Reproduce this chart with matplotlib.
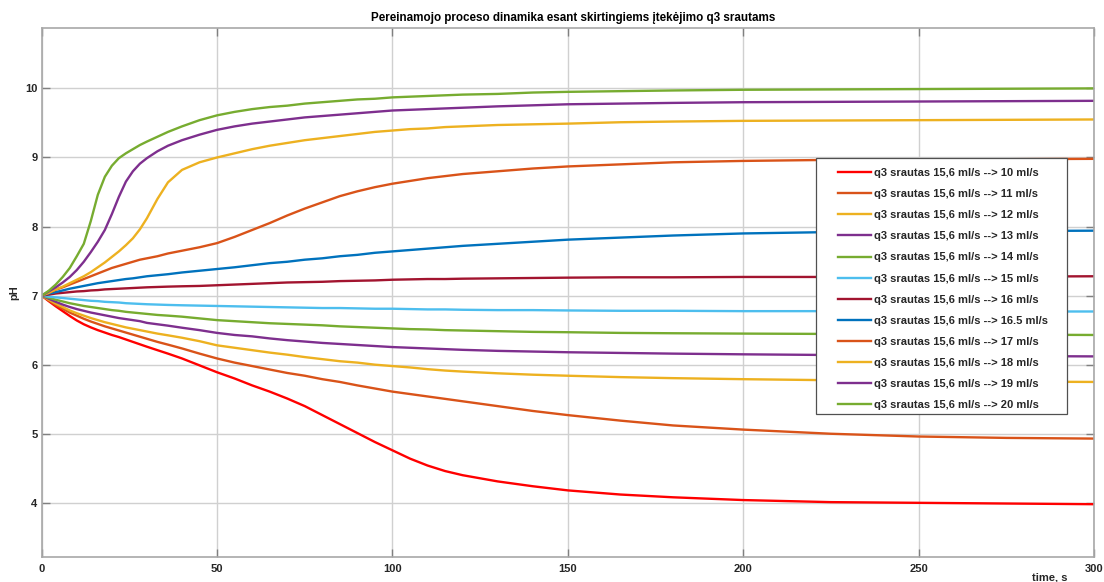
import matplotlib
matplotlib.use("Agg")
import matplotlib.pyplot as plt
from matplotlib.patches import Rectangle

plt.rcParams['font.family'] = ['Liberation Sans', 'DejaVu Sans']

# time points, s
t = [0, 2, 4, 6, 8, 10, 12, 14, 16, 18, 20, 22, 24, 26, 28, 30, 33, 36, 40, 45,
     50, 55, 60, 65, 70, 75, 80, 85, 90, 95, 100, 105, 110, 115, 120, 130, 140, 150,
     165, 180, 200, 225, 250, 275, 300]

# pH responses
ph_10 = [7.00, 6.92, 6.845, 6.775, 6.705, 6.64, 6.585, 6.54, 6.50, 6.465, 6.43, 6.40, 6.365,
         6.33, 6.295, 6.26, 6.21, 6.16, 6.09, 5.99, 5.89, 5.80, 5.70, 5.61, 5.51, 5.40, 5.27,
         5.14, 5.01, 4.88, 4.76, 4.64, 4.54, 4.46, 4.40, 4.31, 4.24, 4.18, 4.12, 4.08, 4.04,
         4.01, 4.00, 3.99, 3.98]
ph_11 = [7.00, 6.93, 6.865, 6.81, 6.755, 6.71, 6.665, 6.625, 6.59, 6.555, 6.525, 6.495, 6.465,
         6.435, 6.405, 6.375, 6.33, 6.29, 6.235, 6.16, 6.09, 6.03, 5.98, 5.93, 5.88, 5.84, 5.79,
         5.75, 5.70, 5.655, 5.61, 5.575, 5.54, 5.505, 5.47, 5.40, 5.33, 5.27, 5.19, 5.12, 5.06,
         5.00, 4.96, 4.94, 4.93]
ph_12 = [7.00, 6.94, 6.885, 6.835, 6.785, 6.745, 6.71, 6.675, 6.645, 6.615, 6.59, 6.565, 6.54,
         6.52, 6.50, 6.48, 6.45, 6.425, 6.39, 6.34, 6.28, 6.245, 6.21, 6.175, 6.145, 6.11, 6.08,
         6.05, 6.03, 6.00, 5.98, 5.96, 5.935, 5.915, 5.90, 5.875, 5.855, 5.84, 5.82, 5.805, 5.79,
         5.775, 5.765, 5.755, 5.75]
ph_13 = [7.00, 6.955, 6.91, 6.87, 6.835, 6.805, 6.78, 6.755, 6.735, 6.715, 6.695, 6.675, 6.66,
         6.645, 6.63, 6.605, 6.585, 6.565, 6.535, 6.50, 6.46, 6.43, 6.41, 6.38, 6.355, 6.335,
         6.315, 6.30, 6.285, 6.27, 6.255, 6.245, 6.235, 6.225, 6.215, 6.20, 6.19, 6.18, 6.17,
         6.16, 6.15, 6.14, 6.13, 6.125, 6.12]
ph_14 = [7.00, 6.97, 6.94, 6.915, 6.89, 6.87, 6.85, 6.835, 6.82, 6.805, 6.79, 6.78, 6.765,
         6.755, 6.745, 6.735, 6.72, 6.71, 6.695, 6.67, 6.645, 6.63, 6.615, 6.60, 6.59, 6.58,
         6.57, 6.555, 6.545, 6.535, 6.525, 6.515, 6.51, 6.50, 6.495, 6.485, 6.475, 6.47, 6.46,
         6.455, 6.45, 6.445, 6.44, 6.435, 6.43]
ph_15 = [7.00, 6.985, 6.975, 6.965, 6.955, 6.945, 6.935, 6.925, 6.92, 6.91, 6.905, 6.90, 6.89,
         6.885, 6.88, 6.875, 6.87, 6.865, 6.86, 6.855, 6.85, 6.845, 6.84, 6.835, 6.83, 6.825,
         6.82, 6.82, 6.815, 6.81, 6.81, 6.805, 6.80, 6.80, 6.795, 6.79, 6.79, 6.785, 6.78,
         6.78, 6.775, 6.775, 6.77, 6.77, 6.77]
ph_16 = [7.00, 7.015, 7.03, 7.04, 7.05, 7.06, 7.065, 7.075, 7.08, 7.09, 7.095, 7.10, 7.105,
         7.11, 7.115, 7.12, 7.125, 7.13, 7.135, 7.14, 7.15, 7.16, 7.17, 7.18, 7.19, 7.195,
         7.20, 7.21, 7.215, 7.22, 7.23, 7.235, 7.24, 7.24, 7.245, 7.25, 7.255, 7.26, 7.265,
         7.265, 7.27, 7.27, 7.275, 7.275, 7.28]
ph_165 = [7.00, 7.03, 7.05, 7.075, 7.10, 7.12, 7.14, 7.16, 7.18, 7.195, 7.21, 7.225, 7.24,
          7.25, 7.265, 7.28, 7.295, 7.31, 7.335, 7.36, 7.385, 7.41, 7.44, 7.47, 7.49, 7.52,
          7.54, 7.57, 7.59, 7.62, 7.64, 7.66, 7.68, 7.70, 7.72, 7.75, 7.78, 7.81, 7.84, 7.87,
          7.90, 7.92, 7.93, 7.935, 7.94]
ph_17 = [7.00, 7.04, 7.085, 7.12, 7.16, 7.20, 7.24, 7.28, 7.32, 7.36, 7.40, 7.43, 7.46, 7.49,
         7.52, 7.54, 7.57, 7.61, 7.65, 7.70, 7.76, 7.85, 7.95, 8.05, 8.16, 8.26, 8.35, 8.44,
         8.51, 8.57, 8.62, 8.66, 8.70, 8.73, 8.76, 8.80, 8.84, 8.87, 8.90, 8.93, 8.95, 8.965,
         8.97, 8.975, 8.98]
ph_18 = [7.00, 7.04, 7.09, 7.13, 7.18, 7.23, 7.28, 7.34, 7.41, 7.48, 7.56, 7.64, 7.73, 7.83,
         7.96, 8.12, 8.40, 8.64, 8.82, 8.93, 9.00, 9.06, 9.12, 9.17, 9.21, 9.25, 9.28, 9.31,
         9.34, 9.37, 9.39, 9.41, 9.42, 9.44, 9.45, 9.47, 9.48, 9.49, 9.51, 9.52, 9.53, 9.535,
         9.54, 9.545, 9.55]
ph_19 = [7.00, 7.06, 7.12, 7.19, 7.27, 7.37, 7.49, 7.63, 7.78, 7.95, 8.18, 8.43, 8.65, 8.80,
         8.91, 8.99, 9.09, 9.17, 9.25, 9.33, 9.40, 9.45, 9.49, 9.52, 9.55, 9.58, 9.60, 9.62,
         9.64, 9.66, 9.68, 9.69, 9.70, 9.71, 9.72, 9.74, 9.755, 9.77, 9.78, 9.79, 9.80, 9.805,
         9.81, 9.815, 9.82]
ph_20 = [7.00, 7.07, 7.16, 7.27, 7.40, 7.57, 7.75, 8.08, 8.46, 8.72, 8.88, 8.99, 9.06, 9.12,
         9.18, 9.23, 9.30, 9.37, 9.45, 9.54, 9.61, 9.66, 9.70, 9.73, 9.75, 9.78, 9.80, 9.82,
         9.84, 9.85, 9.87, 9.88, 9.89, 9.90, 9.91, 9.92, 9.94, 9.95, 9.96, 9.97, 9.98, 9.985,
         9.99, 9.995, 10.0]

series = [ph_10, ph_11, ph_12, ph_13, ph_14, ph_15, ph_16, ph_165, ph_17, ph_18, ph_19, ph_20]
flows = ["10", "11", "12", "13", "14", "15", "16", "16.5", "17", "18", "19", "20"]
colors = ["#ff0000", "#d95319", "#edb120", "#7e2f8e", "#77ac30", "#4dbeee",
          "#a2142f", "#0072bd", "#d95319", "#edb120", "#7e2f8e", "#77ac30"]

fig = plt.figure(figsize=(11.04, 5.82), dpi=100)
ax = fig.add_axes([41.7 / 1104, 1 - 556.7 / 582, (1094 - 41.7) / 1104, (556.7 - 28.3) / 582])

for y, f, c in zip(series, flows, colors):
    ax.plot(t, y, color=c, lw=1.7, label=f"q3 srautas 15,6 ml/s --> {f} ml/s")

ax.set_xlim(0, 300)
ax.set_ylim(3.22, 10.87)
ax.set_xticks(range(0, 301, 50))
ax.set_yticks(range(4, 11))
ax.grid(True, color="#d0d0d0", lw=1)
ax.set_axisbelow(True)
for s in ax.spines.values():
    s.set_color("#a8a8a8")
    s.set_linewidth(1.2)
ax.tick_params(direction="in", length=6, width=1, color="#808080", labelsize=8,
               labelcolor="#262626", top=True, right=True)
ax.tick_params(axis="x", pad=5)
ax.tick_params(axis="y", pad=3)
for lab in ax.get_xticklabels() + ax.get_yticklabels():
    lab.set_fontweight("bold")

ax.set_title("Pereinamojo proceso dinamika esant skirtingiems įtekėjimo q3 srautams",
             fontsize=8.4, fontweight="bold", color="#000000", pad=5, x=0.5054)
ax.set_xlabel("time, s", fontsize=8, fontweight="bold", color="#262626")
ax.xaxis.set_label_coords(0.958, -0.03)
ax.set_ylabel("pH", fontsize=8, fontweight="bold", color="#262626")
ax.yaxis.set_label_coords(-0.0216, 0.5)

# legend box (white, drawn over the lines)
ax.add_patch(Rectangle((0.7358, 0.270), 0.2385, 0.4845, transform=ax.transAxes,
                       facecolor="white", edgecolor="#505050", lw=0.9, zorder=4.5))
leg = ax.legend(loc="upper left", bbox_to_anchor=(0.7567, 0.7356), borderaxespad=0,
                prop={"size": 8, "weight": "bold"}, frameon=False,
                handlelength=3.0, labelspacing=1.0, borderpad=0, handletextpad=0.2)
for txt in leg.get_texts():
    txt.set_color("#262626")

fig.savefig("out.png", dpi=100)
